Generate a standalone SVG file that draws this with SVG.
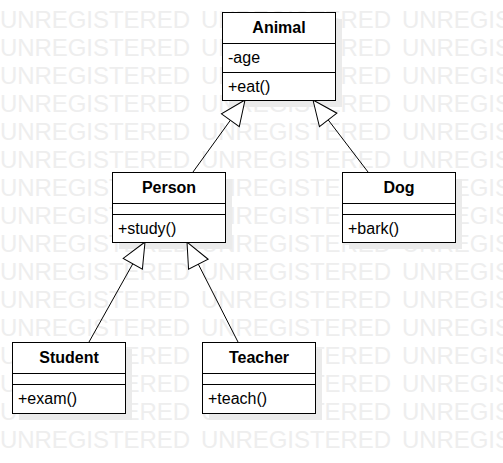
<svg xmlns="http://www.w3.org/2000/svg" xmlns:xlink="http://www.w3.org/1999/xlink" width="503" height="463" viewBox="0 0 503 463">
<style>
.wm{font-family:"Liberation Sans",Arial,sans-serif;font-size:24px;fill:#eeeeee;}
.box{fill:#fff;stroke:#000;stroke-width:1;}
.shadow{fill:#ebebeb;stroke:none;}
.sep{stroke:#000;stroke-width:1;fill:none;}
.title{font-family:"Liberation Sans",Arial,sans-serif;font-size:16px;font-weight:bold;fill:#000;text-anchor:middle;}
.member{font-family:"Liberation Sans",Arial,sans-serif;font-size:16px;fill:#000;}
.conn{stroke:#000;stroke-width:1;fill:none;marker-end:url(#gen);}
</style>
<defs>
<marker id="gen" markerUnits="userSpaceOnUse" viewBox="-28 -13 30 26" markerWidth="30" markerHeight="26" refX="0" refY="0" orient="auto">
<path d="M0,0 L-25,-11 L-25,11 Z" fill="#fff" stroke="#000" stroke-width="1"/>
</marker>
<g id="wmrow">
<text class="wm" x="0" y="0" textLength="190" lengthAdjust="spacing">UNREGISTERED</text>
<text class="wm" x="201" y="0" textLength="190" lengthAdjust="spacing">UNREGISTERED</text>
<text class="wm" x="402" y="0" textLength="190" lengthAdjust="spacing">UNREGISTERED</text>
</g>
</defs>
<rect width="503" height="463" fill="#fff"/>
<g id="watermark">
<use xlink:href="#wmrow" y="28"/>
<use xlink:href="#wmrow" y="56"/>
<use xlink:href="#wmrow" y="84"/>
<use xlink:href="#wmrow" y="112"/>
<use xlink:href="#wmrow" y="140"/>
<use xlink:href="#wmrow" y="168"/>
<use xlink:href="#wmrow" y="196"/>
<use xlink:href="#wmrow" y="224"/>
<use xlink:href="#wmrow" y="252"/>
<use xlink:href="#wmrow" y="280"/>
<use xlink:href="#wmrow" y="308"/>
<use xlink:href="#wmrow" y="336"/>
<use xlink:href="#wmrow" y="364"/>
<use xlink:href="#wmrow" y="392"/>
<use xlink:href="#wmrow" y="420"/>
<use xlink:href="#wmrow" y="448"/>
</g>
<g id="shadows">
<rect class="shadow" x="229" y="19" width="113" height="88"/>
<rect class="shadow" x="119" y="179" width="113" height="70"/>
<rect class="shadow" x="349" y="179" width="113" height="70"/>
<rect class="shadow" x="19" y="349" width="113" height="71"/>
<rect class="shadow" x="209" y="349" width="113" height="71"/>
</g>
<g id="connectors">
<path class="conn" d="M193,172 L245,100"/>
<path class="conn" d="M368,172 L313,100"/>
<path class="conn" d="M89,342 L145,242"/>
<path class="conn" d="M238,342 L187,242"/>
</g>
<g id="animal">
<rect class="box" x="222.5" y="12.5" width="113" height="88"/>
<line class="sep" x1="222.5" y1="43.5" x2="335.5" y2="43.5"/>
<line class="sep" x1="222.5" y1="72.5" x2="335.5" y2="72.5"/>
<text class="title" x="279" y="33">Animal</text>
<text class="member" x="228" y="63">-age</text>
<text class="member" x="228" y="92">+eat()</text>
</g>
<g id="person">
<rect class="box" x="112.5" y="172.5" width="113" height="70"/>
<line class="sep" x1="112.5" y1="203.5" x2="225.5" y2="203.5"/>
<line class="sep" x1="112.5" y1="214.5" x2="225.5" y2="214.5"/>
<text class="title" x="169" y="193">Person</text>
<text class="member" x="118" y="234">+study()</text>
</g>
<g id="dog">
<rect class="box" x="342.5" y="172.5" width="113" height="70"/>
<line class="sep" x1="342.5" y1="203.5" x2="455.5" y2="203.5"/>
<line class="sep" x1="342.5" y1="214.5" x2="455.5" y2="214.5"/>
<text class="title" x="399" y="193">Dog</text>
<text class="member" x="348" y="234">+bark()</text>
</g>
<g id="student">
<rect class="box" x="12.5" y="342.5" width="113" height="71"/>
<line class="sep" x1="12.5" y1="373.5" x2="125.5" y2="373.5"/>
<line class="sep" x1="12.5" y1="384.5" x2="125.5" y2="384.5"/>
<text class="title" x="69" y="363">Student</text>
<text class="member" x="18" y="404">+exam()</text>
</g>
<g id="teacher">
<rect class="box" x="202.5" y="342.5" width="113" height="71"/>
<line class="sep" x1="202.5" y1="373.5" x2="315.5" y2="373.5"/>
<line class="sep" x1="202.5" y1="384.5" x2="315.5" y2="384.5"/>
<text class="title" x="259" y="363">Teacher</text>
<text class="member" x="208" y="404">+teach()</text>
</g>
</svg>
